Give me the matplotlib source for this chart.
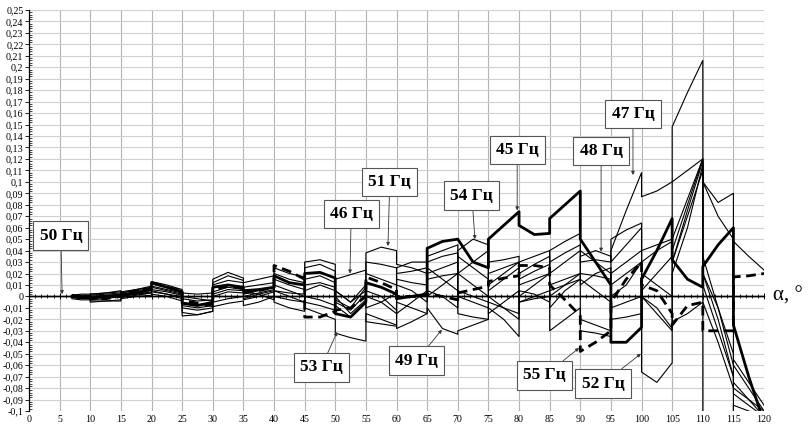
import numpy as np
import matplotlib
matplotlib.use('Agg')
import matplotlib.pyplot as plt
from matplotlib.ticker import MultipleLocator, FuncFormatter

# segment borders, degrees (each curve jumps at every border)
SEG_BOUNDS = [7, 10, 15, 20, 25, 30, 35, 40, 45, 50, 55, 60, 65, 70,
              75, 80, 85, 90, 95, 100, 105, 110, 115, 120]

# values in 1e-3 units: [start, middle, end] for each segment
F45 = [[0, -1, -1], [-1, 0, 1], [1, 3, 6], [12, 8, 4], [-6, -8, -5],
       [8, 10, 8], [5, 6, 8], [18, 12, 10], [20, 21, 16], [-15, -18, -5],
       [12, 8, 2], [-2, 0, 2], [42, 48, 50], [50, 30, 25], [50, 62, 74],
       [62, 54, 55], [68, 80, 92], [50, 30, 10], [-40, -40, -27],
       [15, 40, 68], [32, 15, 8], [26, 45, 60], [-25, -70, -110]]
F46 = [[0, 1, 1], [1, 2, 3], [3, 5, 7], [9, 6, 3], [-2, -4, -3],
       [12, 18, 14], [8, 10, 12], [15, 10, 6], [25, 28, 22], [15, 19, 23],
       [20, 15, 10], [15, 12, 10], [30, 35, 38], [20, 10, 0], [20, 25, 30],
       [15, 22, 28], [30, 38, 45], [20, 18, 15], [20, 30, 40], [30, 40, 48],
       [40, 80, 120], [100, 70, 50], [48, 35, 23]]
F47 = [[-1, -2, -2], [-3, -2, 0], [0, 2, 4], [6, 4, 1], [-10, -12, -10],
       [4, 8, 6], [-2, 2, 5], [10, 5, 0], [10, 12, 8], [-5, -12, 2],
       [30, 28, 25], [20, 22, 25], [15, 18, 20], [35, 25, 15], [5, 15, 25],
       [30, 35, 40], [20, 30, 40], [30, 32, 30], [40, 75, 108],
       [87, 92, 100], [148, 178, 206], [100, 82, 90], [-105, -110, -115]]
F48 = [[0, 0, -1], [-2, -1, 1], [1, 2, 3], [4, 2, 0], [-8, -10, -8],
       [2, 6, 5], [2, 5, 8], [5, 3, 2], [5, 10, 5], [-3, -10, 8],
       [0, -5, -15], [25, 30, 30], [5, 0, -10], [20, 30, 40], [-5, -10, -15],
       [20, 28, 35], [5, 10, 15], [35, 40, 35], [30, 45, 60], [40, 45, 50],
       [50, 85, 120], [20, -10, -50], [-55, -75, -95]]
F49 = [[1, 0, 0], [0, 1, 2], [2, 4, 6], [8, 5, 2], [0, -2, -4],
       [0, 4, 3], [4, 2, -3], [20, 15, 12], [-5, -8, -12], [5, -5, 5],
       [-22, -24, -26], [-5, -10, -15], [-10, -28, -33], [-30, -25, -20],
       [-10, -20, -35], [5, 2, -5], [10, 15, 20], [-20, -25, -30],
       [-10, -5, 0], [20, 10, 0], [20, 60, 115], [20, -20, -70],
       [-75, -90, -105]]
F50 = [[0, 0, 0]] * 23
F51 = [[-1, 0, 1], [2, 3, 4], [4, 6, 9], [13, 10, 6], [3, 2, 3],
       [15, 21, 16], [12, 15, 18], [25, 20, 17], [30, 32, 28], [5, -5, 10],
       [38, 43, 40], [28, 25, 20], [35, 40, 45], [0, -5, -10], [30, 32, 35],
       [0, 10, 20], [40, 48, 55], [40, 30, 20], [0, 10, 30], [0, -10, -28],
       [30, 75, 118], [35, -10, -60], [-60, -80, -100]]
F52 = [[0, -1, -2], [-4, -4, -3], [-1, 1, 3], [5, 2, -2], [-14, -16, -13],
       [-5, -2, 0], [0, 3, 6], [5, 0, -5], [0, -3, -8], [0, -15, -3],
       [-10, -5, 3], [10, 5, -5], [25, 15, 5], [-15, -18, -20],
       [0, -10, -20], [-5, 0, 5], [0, 10, 20], [15, 5, -5], [50, 58, 64],
       [-66, -75, -58], [100, 110, 120], [-120, -130, -140],
       [-95, -100, -105]]
F53 = [[-2, -3, -3], [-5, -4, -4], [-2, 0, 1], [2, 0, -4], [-17, -16, -13],
       [-9, -6, -4], [-8, -5, 0], [-5, -10, -13], [-10, -15, -20],
       [-32, -36, -39], [-15, -20, -25], [-28, -22, -15], [20, 25, 30],
       [5, 0, -5], [-15, -5, 5], [-5, -2, 0], [-30, -20, -10],
       [-30, -32, -35], [-20, -18, -15], [0, -15, -30], [-22, -15, -5],
       [-5, -40, -80], [-85, -95, -105]]
F54 = [[1, 2, 2], [2, 3, 5], [3, 6, 8], [11, 8, 5], [-5, -7, -6],
       [10, 14, 12], [-3, 0, 4], [0, -3, -5], [15, 18, 12], [-8, -18, -5],
       [5, 0, -12], [-15, -5, 5], [0, 10, 20], [40, 50, 45], [10, 20, 30],
       [10, 15, 20], [-10, 5, 15], [10, 20, 25], [10, 20, 30], [5, 20, 35],
       [30, 70, 110], [10, -30, -70], [-80, -90, -100]]
F55 = [[1, 0, -1], [-2, -2, 0], [2, 5, 7], [12, 8, 5], [-3, -6, -8],
       [6, 9, 7], [3, 5, 8], [27, 22, 15], [-18, -18, -13], [-12, -10, 0],
       [17, 12, 6], [0, 0, 1], [2, 0, -3], [3, 6, 9], [13, 16, 18],
       [27, 27, 25], [10, -3, -17], [-48, -40, -30], [-5, 15, 30],
       [10, 5, -15], [-25, -8, -5], [-30, -30, -30], [17, 18, 20]]

# labels: text, box centre, arrow tip (data units)
LABELS = ['50 Гц', '53 Гц', '46 Гц', '51 Гц', '49 Гц', '54 Гц',
          '45 Гц', '48 Гц', '47 Гц', '55 Гц', '52 Гц']
LABEL_BOX = [(5.2, 0.053), (47.7, -0.062), (52.6, 0.072), (58.9, 0.100),
             (63.3, -0.056), (72.3, 0.088), (79.7, 0.128), (93.4, 0.127),
             (98.6, 0.159), (84.2, -0.069), (93.7, -0.076)]
LABEL_TIP = [(5.4, 0.002), (50.3, -0.031), (52.4, 0.020), (58.6, 0.044),
             (67.4, -0.029), (72.8, 0.050), (79.7, 0.075), (93.4, 0.039),
             (98.6, 0.106), (89.8, -0.045), (99.9, -0.050)]

FONT = 'Liberation Serif'


def build_xy(segs):
    xs, ys = [], []
    for k, (v0, v1, v2) in enumerate(segs):
        a, b = SEG_BOUNDS[k], SEG_BOUNDS[k + 1]
        xs += [a, (a + b) / 2, b]
        ys += [v0 / 1000, v1 / 1000, v2 / 1000]
    return np.array(xs), np.array(ys)


def fmt_y(v, pos):
    s = f"{round(v, 2):g}".replace('.', ',')
    return '0' if s in ('0', '-0') else s


fig = plt.figure(figsize=(8.08, 4.28), dpi=100)
ax = fig.add_axes([0.0359, 0.0397, 0.9097, 0.937])

ax.set_xlim(0, 120)
ax.set_ylim(-0.1, 0.25)
ax.xaxis.set_major_locator(MultipleLocator(5))
ax.xaxis.set_minor_locator(MultipleLocator(1))
ax.yaxis.set_major_locator(MultipleLocator(0.01))
ax.yaxis.set_minor_locator(MultipleLocator(0.002))
ax.grid(True, axis='x', which='major', color='#b4b4b4', lw=0.8)
ax.grid(True, axis='y', which='major', color='#d0d0d0', lw=0.8)
ax.set_axisbelow(True)

for s in ('top', 'right'):
    ax.spines[s].set_visible(False)
ax.spines['bottom'].set_position(('data', 0))
ax.spines['bottom'].set_linewidth(1.0)
ax.spines['left'].set_linewidth(0.9)
ax.tick_params(axis='x', which='both', labelbottom=False, direction='inout')
ax.tick_params(axis='x', which='major', length=4, width=0.7)
ax.tick_params(axis='x', which='minor', length=3, width=0.6)
ax.tick_params(axis='y', which='major', length=3, width=0.6, direction='out',
               labelsize=7.2, pad=1)
ax.tick_params(axis='y', which='minor', length=2, width=0.5, direction='in')
ax.yaxis.set_major_formatter(FuncFormatter(fmt_y))
for lab in ax.get_yticklabels():
    lab.set_family(FONT)

sec = ax.secondary_xaxis(0.0)
sec.set_xticks(np.arange(0, 121, 5))
sec.tick_params(length=0, labelsize=7.2, pad=3)
sec.spines['bottom'].set_visible(False)
for lab in sec.get_xticklabels():
    lab.set_family(FONT)

thin = [F46, F47, F48, F49, F51, F52, F53, F54]
for segs in thin:
    x, y = build_xy(segs)
    ax.plot(x, y, color='black', lw=0.8)

x, y = build_xy(F50)
ax.plot(np.r_[0, x], np.r_[0, y], color='black', lw=1.0)
x, y = build_xy(F55)
ax.plot(x, y, color='black', lw=2.0, dashes=(3.5, 2))
x, y = build_xy(F45)
ax.plot(x, y, color='black', lw=2.0)

for text, box, tip in zip(LABELS, LABEL_BOX, LABEL_TIP):
    ax.annotate(text, xy=tip, xytext=box, ha='center', va='center',
                fontsize=12.5, fontweight='bold', family=FONT,
                bbox=dict(boxstyle='square,pad=0.36', fc='white',
                          ec='#555555', lw=0.8),
                arrowprops=dict(arrowstyle='-|>', color='#333333', lw=0.6,
                                mutation_scale=5, shrinkA=0, shrinkB=0))

ax.text(1.012, 0, 'α, °', transform=ax.get_yaxis_transform(),
        ha='left', va='center', fontsize=15, family=FONT)

fig.savefig('out.png', dpi=100)
